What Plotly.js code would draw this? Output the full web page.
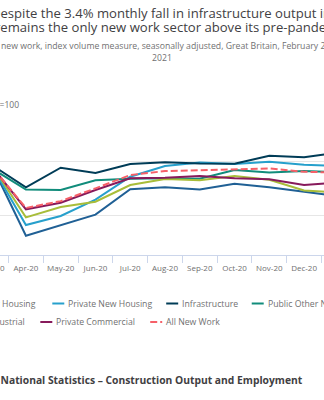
<!DOCTYPE html>
<html><head><meta charset="utf-8">
<script src="https://cdn.plot.ly/plotly-3.0.1.min.js"></script>
<style>
html,body{margin:0;padding:0;width:324px;height:400px;overflow:hidden;background:#fff}
#chart{position:absolute;left:-100.7px;top:0;width:533px;height:400px}
</style>
</head><body><div id="chart"></div>
<script>
// ---- data (index, February 2020 = 100) ----
const months = ["Feb-20","Mar-20","Apr-20","May-20","Jun-20","Jul-20","Aug-20","Sep-20","Oct-20","Nov-20","Dec-20","Jan-21","Feb-21"];
const publicNewHousing   = [100, 98.0, 30.5, 40.6, 50.3, 74.1, 76.0, 73.8, 79.2, 76.0, 71.8, 67.6, 70.0];
const privateNewHousing  = [100, 97.3, 40.6, 49.1, 64.5, 85.9, 95.9, 99.2, 97.7, 100.0, 97.2, 95.9, 96.0];
const infrastructure     = [100, 97.3, 76.0, 94.3, 89.4, 97.8, 99.5, 98.3, 98.0, 105.5, 104.1, 108.5, 104.8];
const publicOtherNewWork = [100, 94.0, 73.9, 73.4, 82.5, 83.9, 84.5, 84.0, 92.2, 89.8, 91.2, 90.0, 89.0];
const privateIndustrial  = [100, 97.6, 47.8, 57.5, 62.5, 78.1, 83.7, 82.5, 86.6, 83.1, 73.0, 71.1, 74.0];
const privateCommercial  = [100, 96.4, 55.3, 61.5, 73.4, 84.4, 84.8, 86.6, 84.4, 83.5, 78.1, 80.5, 80.0];
const allNewWork         = [100, 96.0, 56.6, 63.0, 75.0, 87.5, 91.2, 92.0, 92.8, 93.6, 90.5, 89.8, 90.0];

const seriesNames  = ["Public New Housing","Private New Housing","Infrastructure","Public Other New Work","Private Industrial","Private Commercial","All New Work"];
const seriesValues = [publicNewHousing, privateNewHousing, infrastructure, publicOtherNewWork, privateIndustrial, privateCommercial, allNewWork];
const seriesColors = ["#206095","#27a0cc","#003c57","#118c7b","#a8bd3a","#871a5b","#f66068"];
const seriesDash   = ["solid","solid","solid","solid","solid","solid","7px,3px"];

const titleLines = ["Despite the 3.4% monthly fall in infrastructure output in February 2021, it",
                    "remains the only new work sector above its pre-pandemic level"];
const subtitlePrefix = "Sectors of";
const subtitleLine1 = "new work, index volume measure, seasonally adjusted, Great Britain, February 2020 to February";
const subtitleLine2 = "2021";
const yUnits = "Index, February 2020=100";
const sourceText = "Source: Office for National Statistics – Construction Output and Employment";

// ---- geometry (window pixels -> paper coords) ----
const DIV_LEFT = -100.7, W = 533, H = 400;
const ML = 40, MT = 108, PH = 147, PW = 452.4;
const MR = W - ML - PW, MB = H - MT - PH;
const px = xw => (xw - DIV_LEFT - ML) / PW;
const py = yw => (MT + PH - yw) / PH;

const traces = seriesNames.map((n, i) => ({
  type: "scatter", mode: "lines", name: n,
  x: months, y: seriesValues[i],
  line: {color: seriesColors[i], width: 2, dash: seriesDash[i]},
  showlegend: false, hoverinfo: "skip"
}));

const grey = "#707071", dark = "#414042";
const ann = [];
const shp = [];
function txt(t, x, y, anchor, size, color, bold){
  ann.push({text: bold ? "<b>"+t+"</b>" : t, xref:"paper", yref:"paper", x: px(x), y: py(y),
    xanchor: anchor, yanchor: "middle", showarrow: false, borderpad: 0,
    font: {family: "Open Sans", size: size, color: color}});
}
txt(titleLines[0], -9.2, 12.5, "left", 13.1, dark);
txt(titleLines[1], -5.6, 27.5, "left", 13.1, dark);
txt(subtitlePrefix, -2, 46, "right", 8.7, grey);
txt(subtitleLine1, 0.5, 46, "left", 8.7, grey);
txt(subtitleLine2, 162, 58, "center", 8.7, grey);
txt(yUnits, 20.5, 104, "right", 8.5, grey);
txt(sourceText, 304.5, 380, "right", 10.3, dark, true);

// legend (two rows, flowing like the original)
const legendRowY = [303.5, 322];
const legendItems = [
  {s:0, row:0, mx:-62, tx:37.5, a:"right"},
  {s:1, row:0, mx:52.7, tx:67.7, a:"left"},
  {s:2, row:0, mx:166.7, tx:181.7, a:"left"},
  {s:3, row:0, mx:252.3, tx:267.8, a:"left"},
  {s:4, row:1, mx:-60, tx:26.5, a:"right"},
  {s:5, row:1, mx:40.7, tx:55.7, a:"left"},
  {s:6, row:1, mx:150.7, tx:165.8, a:"left"}
];
legendItems.forEach(it => {
  const y = legendRowY[it.row];
  shp.push({type:"line", xref:"paper", yref:"paper", x0: px(it.mx), x1: px(it.mx+12),
    y0: py(y), y1: py(y),
    line: {color: seriesColors[it.s], width: 2, dash: seriesDash[it.s]}});
  txt(seriesNames[it.s], it.tx, y, it.a, 8.7, grey);
});

const layout = {
  width: W, height: H, autosize: false,
  margin: {l: ML, r: MR, t: MT, b: MB, pad: 0},
  paper_bgcolor: "#fff", plot_bgcolor: "#fff",
  font: {family: "Open Sans", color: grey},
  showlegend: false,
  xaxis: {type: "category", range: [-0.5, 12.5], tickson: "boundaries",
    ticks: "outside", ticklen: 7, tickcolor: "#ccd6eb", tickwidth: 1, tickangle: 0,
    ticklabelstandoff: 5,
    showline: true, linecolor: "#ccd6eb", linewidth: 1, showgrid: false,
    tickfont: {family: "Open Sans", size: 8, color: grey}, fixedrange: true},
  yaxis: {range: [12.5, 150.3], tickvals: [50, 100, 150], showticklabels: false,
    showgrid: true, gridcolor: "#e6e6e6", gridwidth: 1, zeroline: false,
    showline: false, ticks: "", fixedrange: true},
  annotations: ann, shapes: shp
};
Plotly.newPlot("chart", traces, layout, {displayModeBar: false, staticPlot: true});
</script>
</body></html>
